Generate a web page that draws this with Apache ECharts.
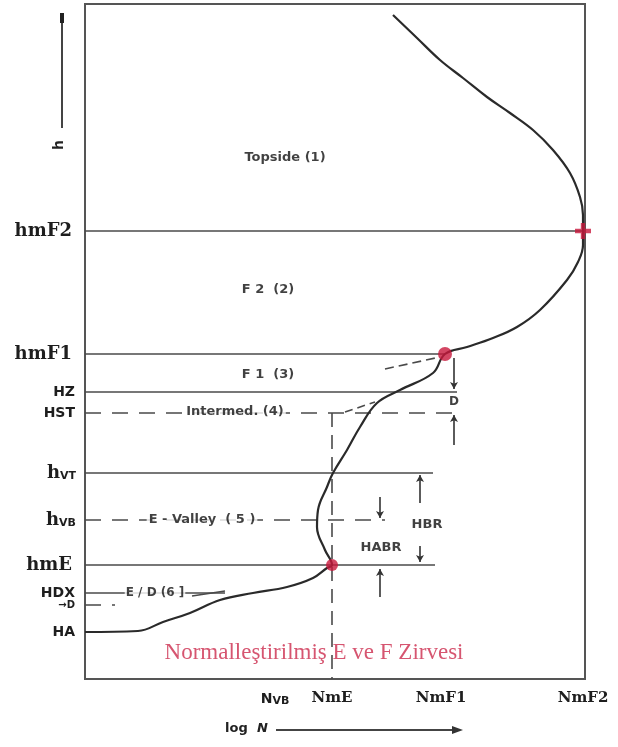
<!DOCTYPE html>
<html><head><meta charset="utf-8">
<script src="https://cdn.jsdelivr.net/npm/echarts@6/dist/echarts.min.js"></script>
<style>html,body{margin:0;padding:0;background:#fff}#c{width:618px;height:747px}</style>
</head><body><div id="c"></div>
<script>
// Electron density profile (x: log N, arbitrary units 0-100; y: height, arbitrary units 0-135)
const profileLogN   = [0, 10.6, 15.6, 21, 27, 33.6, 40.4, 45.6, 48.4, 49.4, 48, 46.4, 46.6, 48.4, 49.6, 52.4, 55, 58.4, 63, 69.6, 72, 76.4, 81.6, 86.4, 91, 96.4, 98.6, 99.6, 99.6, 99.6, 99, 97, 93.6, 89.6, 85, 80.4, 75.6, 71, 66.4, 61.6];
const profileHeight = [9.4, 9.6, 11.4, 13.2, 15.8, 17.2, 18.4, 20.2, 22.2, 22.8, 25.8, 30.4, 33.8, 38.4, 41.2, 45.8, 50.4, 55.2, 57.8, 61.2, 65, 66.4, 68.2, 70.4, 73.8, 79.8, 83.4, 86.8, 89.6, 92.8, 96.4, 101.2, 105.8, 109.8, 113.2, 116.4, 120.2, 123.8, 128.2, 132.8];

// Height levels (y axis) and how far their reference lines extend in log N
const levelNames   = ['HA', 'HD', 'HDX', 'hmE', 'hVB', 'hVT', 'HST', 'HZ', 'hmF1', 'hmF2'];
const levelHeights = [9.4, 14.8, 17.2, 22.8, 31.8, 41.2, 53.2, 57.4, 65, 89.6];
const levelExtents = [0, 6, 28, 70, 60, 69.6, 75, 74.4, 72, 100];
const dashedLevels = ['HD', 'hVB', 'HST'];

// Layer peaks
const peakNames   = ['NmE', 'NmF1', 'NmF2'];
const peakLogN    = [49.4, 72, 99.6];
const peakHeights = [22.8, 65, 89.6];

// x axis tick labels
const xTickNames  = ['NVB', 'NmE', 'NmF1', 'NmF2'];
const xTickValues = [38, 49.4, 71.2, 99.6];

// auxiliary dashed constructions [x1,y1,x2,y2]
const tangentF1   = [60, 62, 71, 64.4];
const intermedExt = [52, 53.4, 58, 55.4];
const edLayer     = [21.4, 16.6, 28, 17.6];
const nmeHeightTop = 53.2;

// dimension arrows: [x, yFrom, yTo]
const dimArrows = [
  [73.8, 64.2, 58.0], [73.8, 46.8, 52.8],
  [67, 35.2, 40.8], [67, 26.6, 23.4],
  [59, 36.4, 32.2], [59, 16.4, 22.0]
];

const chart = echarts.init(document.getElementById('c'), null, {renderer: 'canvas'});
const LINE = '#4a4a4a';
const RED = '#c8183c';

const levelLines = [];
levelNames.forEach((n, i) => {
  if (levelExtents[i] <= 0) return;
  levelLines.push([
    {coord: [0, levelHeights[i]], lineStyle: {type: dashedLevels.includes(n) ? [16, 11] : 'solid'}},
    {coord: [levelExtents[i], levelHeights[i]]}
  ]);
});

const yRich = {
  serif: {fontFamily: 'DejaVu Serif', fontWeight: 'bold', fontSize: 18, color: '#1e1e1e', padding: [0, 5, 0, 0]},
  h: {fontFamily: 'DejaVu Serif', fontWeight: 'bold', fontSize: 18, color: '#1e1e1e'},
  sans: {fontFamily: 'DejaVu Sans', fontWeight: 'bold', fontSize: 14, color: '#1e1e1e', padding: [0, 2, 0, 0]},
  sub: {fontFamily: 'DejaVu Sans', fontWeight: 'bold', fontSize: 11, color: '#1e1e1e', padding: [7, 1, 0, 0]},
  small: {fontFamily: 'DejaVu Sans', fontWeight: 'bold', fontSize: 10, color: '#1e1e1e', padding: [0, 2, 0, 0]}
};

function yLabel(v) {
  const i = levelHeights.findIndex(h => Math.abs(h - v) < 1e-6);
  if (i < 0) return '';
  const n = levelNames[i];
  if (n.startsWith('hm')) return '{serif|' + n + '}';
  if (n === 'hVT' || n === 'hVB') return '{h|h}{sub|' + n.slice(1) + '}';
  if (n === 'HD') return '{small|→D}';
  return '{sans|' + n + '}';
}
function xLabel(v) {
  const i = xTickValues.findIndex(h => Math.abs(h - v) < 1e-6);
  if (i < 0) return '';
  const n = xTickNames[i];
  if (n === 'NVB') return '{n|N}{sub|VB}';
  return '{serif|' + n + '}';
}

const txt = (x, y, text, extra) => ({value: [x, y], label: Object.assign({show: true, position: 'inside', formatter: text,
  fontFamily: 'DejaVu Sans', fontWeight: 'bold', fontSize: 13, color: '#111'}, extra || {})});

const option = {
  animation: false,
  backgroundColor: '#fff',
  grid: {left: 85, right: 33, top: 4, bottom: 68, show: true, borderColor: '#555', borderWidth: 2, backgroundColor: '#fff'},
  xAxis: {
    type: 'value', min: 0, max: 100, splitLine: {show: false}, axisLine: {show: false}, axisTick: {show: false},
    axisLabel: {customValues: xTickValues, formatter: xLabel, margin: 12, rich: {
      serif: {fontFamily: 'DejaVu Serif', fontWeight: 'bold', fontSize: 15, color: '#1e1e1e'},
      n: {fontFamily: 'DejaVu Sans', fontWeight: 'bold', fontSize: 14, color: '#1e1e1e'},
      sub: {fontFamily: 'DejaVu Sans', fontWeight: 'bold', fontSize: 11, color: '#1e1e1e', padding: [5, 0, 0, 0]}
    }}
  },
  yAxis: {
    type: 'value', min: 0, max: 135, splitLine: {show: false}, axisLine: {show: false}, axisTick: {show: false},
    axisLabel: {customValues: levelHeights, formatter: yLabel, margin: 8, rich: yRich}
  },
  series: [
    {
      type: 'line', name: 'levels', data: [], silent: true,
      markLine: {silent: true, symbol: ['none', 'none'], label: {show: false},
        lineStyle: {color: LINE, width: 1.6, type: 'solid'}, data: levelLines}
    },
    {
      type: 'line', name: 'aux', data: [], silent: true,
      markLine: {silent: true, symbol: ['none', 'none'], label: {show: false}, lineStyle: {color: LINE, width: 1.6}, data: [
        [{coord: [peakLogN[0], nmeHeightTop], lineStyle: {type: [14, 8]}}, {coord: [peakLogN[0], 0]}],
        [{coord: [tangentF1[0], tangentF1[1]], lineStyle: {type: [9, 5]}}, {coord: [tangentF1[2], tangentF1[3]]}],
        [{coord: [intermedExt[0], intermedExt[1]], lineStyle: {type: [8, 5]}}, {coord: [intermedExt[2], intermedExt[3]]}],
        [{coord: [edLayer[0], edLayer[1]], lineStyle: {type: 'solid'}}, {coord: [edLayer[2], edLayer[3]]}]
      ]}
    },
    {
      type: 'line', name: 'dims', data: [], silent: true,
      markLine: {silent: true, symbol: ['none', 'arrow'], symbolSize: [6, 7], label: {show: false},
        lineStyle: {color: '#333', width: 1.6, type: 'solid'},
        data: dimArrows.map(a => [{coord: [a[0], a[1]]}, {coord: [a[0], a[2]]}])}
    },
    {
      type: 'line', name: 'profile', z: 5,
      data: profileLogN.map((x, i) => [x, profileHeight[i]]),
      showSymbol: false, smooth: 0.4, lineStyle: {color: '#2a2a2a', width: 2.2}
    },
    {
      type: 'scatter', name: 'peaks', z: 6,
      data: peakLogN.map((x, i) => ({value: [x, peakHeights[i]],
        symbol: i === 2 ? 'path://M4,0h3v4h4v3h-4v4h-3v-4h-4v-3h4z' : 'circle',
        symbolSize: i === 2 ? 16 : (i === 1 ? 14 : 12)})),
      itemStyle: {color: RED}
    },
    {
      type: 'scatter', name: 'annotations', z: 10, symbolSize: 0, silent: true,
      data: [
        txt(40, 104.2, 'Topside (1)'),
        txt(36.6, 77.8, 'F 2  (2)'),
        txt(36.6, 60.8, 'F 1  (3)'),
        txt(30, 53.4, 'Intermed. (4)', {backgroundColor: '#fff', padding: [1, 2]}),
        txt(23.4, 31.8, 'E - Valley  ( 5 )', {backgroundColor: '#fff', padding: [1, 2]}),
        txt(14, 17.2, 'E / D (6 ]', {backgroundColor: '#fff', padding: [1, 1], fontSize: 12}),
        txt(73.8, 55.4, 'D', {fontSize: 12}),
        txt(68.4, 30.8, 'HBR'),
        txt(59.2, 26.2, 'HABR'),
        txt(45.8, 5.2, 'Normalleştirilmiş E ve F Zirvesi', {fontFamily: 'Liberation Serif', fontWeight: 'normal', fontSize: 23, color: '#cc2a4c'})
      ]
    }
  ],
  graphic: [
    {type: 'line', shape: {x1: 62, y1: 128, x2: 62, y2: 20}, style: {stroke: '#444', lineWidth: 2}},
    {type: 'rect', shape: {x: 60, y: 13, width: 4, height: 10}, style: {fill: '#222'}},
    {type: 'text', x: 52, y: 150, rotation: Math.PI / 2, style: {text: 'h', font: 'bold 14px "DejaVu Sans"', fill: '#222'}},
    {type: 'text', x: 225, y: 722, style: {text: 'log', font: 'bold 13px "DejaVu Sans"', fill: '#222'}},
    {type: 'text', x: 257, y: 722, style: {text: 'N', font: 'italic bold 13px "DejaVu Sans"', fill: '#222'}},
    {type: 'line', shape: {x1: 276, y1: 730, x2: 458, y2: 730}, style: {stroke: '#444', lineWidth: 2}},
    {type: 'polygon', shape: {points: [[452, 726], [463, 730], [452, 734]]}, style: {fill: '#333'}}
  ]
};
chart.setOption(option);
</script>
</body></html>
